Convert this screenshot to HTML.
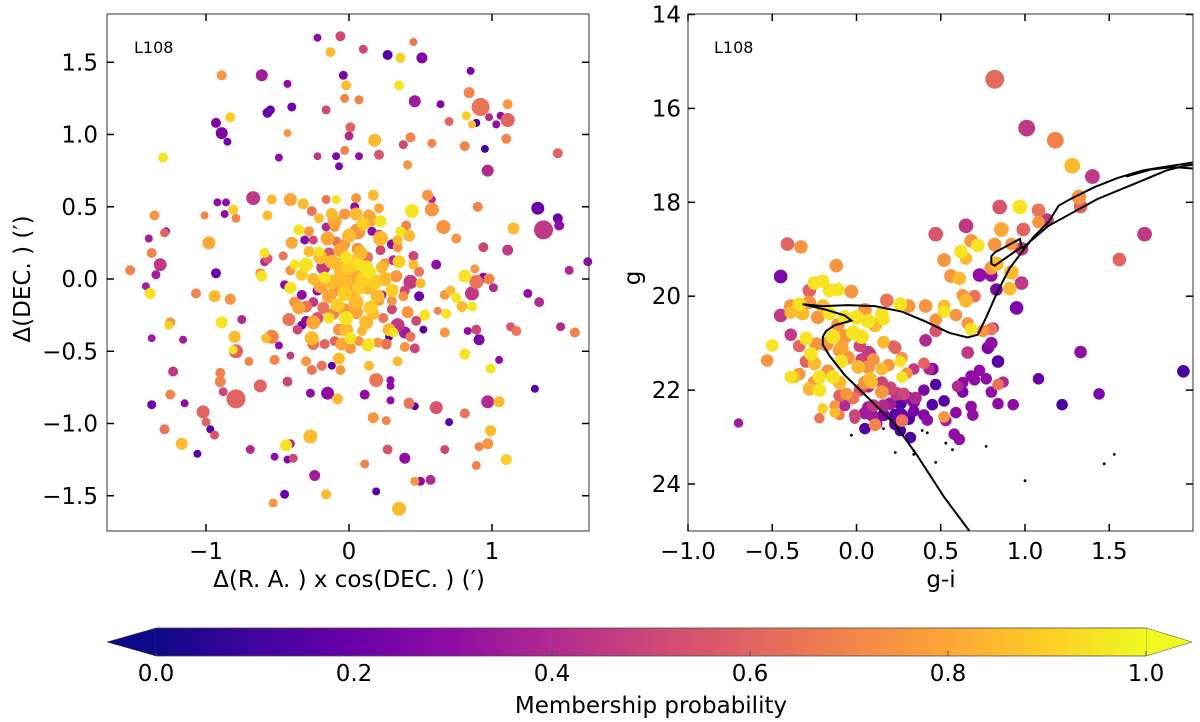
<!DOCTYPE html>
<html><head><meta charset="utf-8">
<style>
html,body{margin:0;padding:0;background:#fff;}
svg{display:block;font-family:"DejaVu Sans","Liberation Sans",sans-serif;}
</style></head>
<body>
<svg id="fig" width="1200" height="722" viewBox="0 0 1200 722" xmlns="http://www.w3.org/2000/svg">
<defs>
<linearGradient id="plasma" x1="0" x2="1" y1="0" y2="0">
<stop offset="0" stop-color="#0d0887"/><stop offset="0.1" stop-color="#41049d"/><stop offset="0.2" stop-color="#6a00a8"/><stop offset="0.3" stop-color="#8f0da4"/><stop offset="0.4" stop-color="#b12a90"/><stop offset="0.5" stop-color="#cc4778"/><stop offset="0.6" stop-color="#e16462"/><stop offset="0.7" stop-color="#f2844b"/><stop offset="0.8" stop-color="#fca636"/><stop offset="0.9" stop-color="#fcce25"/><stop offset="1" stop-color="#f0f921"/>
</linearGradient>
</defs>
<g id="left"></g>
<g id="right"></g>
<g id="cbar">
<polygon points="107,642 156,628 156,656" fill="#0d0887" stroke="#444" stroke-width="0.5"/>
<polygon points="1146,628 1192,642 1146,656" fill="#f0f921" stroke="#444" stroke-width="0.5"/>
<rect x="156" y="628" width="990" height="28" fill="url(#plasma)"/>
<line x1="156" y1="628" x2="1146" y2="628" stroke="#444" stroke-width="0.8"/>
<line x1="156" y1="656" x2="1146" y2="656" stroke="#444" stroke-width="0.8"/>
<text x="651" y="713" font-size="23" text-anchor="middle">Membership probability</text>
</g>
</svg>
<script>
const NS="http://www.w3.org/2000/svg";
// ---- data ----
const cbarTicks=[0,0.2,0.4,0.6,0.8,1.0];
const leftXTicks=[-1,0,1];
const leftYTicks=[-1.5,-1.0,-0.5,0.0,0.5,1.0,1.5];
const rightXTicks=[-1.0,-0.5,0.0,0.5,1.0,1.5];
const rightYTicks=[14,16,18,20,22,24];
// [dRA, dDEC, prob, size]
const leftStars=[
[-.22,1.67,.3,4],[-.06,1.68,.5,5],[.45,1.64,.65,4],[-.13,1.57,.85,5],[.10,1.59,.5,4.5],[.27,1.55,.15,5],[.36,1.53,.9,5],[.51,1.53,.25,5.5],
[-.89,1.41,.75,5],[-.61,1.41,.35,6],[-.43,1.35,.3,4],[-.04,1.41,.25,4.5],[-.02,1.34,.85,5],[.35,1.34,.95,5],[.85,1.44,.25,4],[-.03,1.25,.7,4.5],
[.07,1.24,.7,4.5],[-.16,1.17,.5,4.5],[.46,1.23,.35,6],[.64,1.21,.25,4],[.84,1.29,.7,5.5],[.92,1.19,.65,9],[1.11,1.21,.75,5],[-.57,1.15,.2,5],
[-.55,1.17,.2,4.5],[-.40,1.19,.2,4.5],[-.83,1.12,.9,5],[-.93,1.08,.25,5],[-.89,1.01,.25,6],[-.85,.95,.2,4],[-.43,1.01,.75,4],[.01,1.05,.6,5],
[0,.99,.4,4.5],[.18,.96,.85,6.5],[.70,1.09,.6,4.5],[.82,1.13,.9,4.5],[.89,1.08,.1,4],[.86,1.07,.85,4],[.98,1.12,.4,4],[1.03,1.07,.3,4],
[1.06,1.13,.3,4],[1.11,1.10,.6,7],[1.10,.97,.7,5],[.43,.98,.7,5],[.58,.94,.7,4.5],[.38,.93,.5,4.5],[.81,.92,.7,5],[.95,.90,.1,4],
[-.03,.89,.7,4.5],[-.09,.85,.25,4],[.07,.85,.3,4],[.21,.86,.55,5],[-.22,.85,.45,4],[-.49,.84,.3,4],[-.07,.78,.25,4],[.41,.79,.75,4.5],
[.97,.75,.4,6],[1.46,.87,.6,5],[-1.30,.84,.95,5],
[-.67,.56,.45,7],[-.92,.53,.3,4],[-.86,.53,.3,4],[-.81,.48,.9,5],[-.79,.42,.7,4.5],[-.87,.45,.3,4],[-1.01,.44,.7,4],[-.54,.55,.85,5],
[-.41,.55,.8,6.5],[-.57,.44,.85,5],[-1.36,.44,.75,5],[-1.28,.33,.3,4],[-1.29,.32,.6,4.5],[-1.40,.28,.35,4],[-.98,.25,.8,6.5],[-1.38,.18,.7,5],
[-1.32,.10,.45,6.5],[-1.35,.03,.35,4.5],[-1.53,.06,.7,5],[-1.42,-.05,.35,4],[-1.39,-.10,.95,5.5],[-.93,.04,.2,5],[-1.07,-.10,.7,5],[-.94,-.12,.85,6],
[-.83,-.14,.75,5.5],[-.89,-.30,.95,6],[-.75,-.28,.4,4.5],[-1.25,-.30,.75,5],[-1.26,-.32,.9,4.5],[-1.38,-.41,.35,4],[-1.16,-.42,.35,4],[-.80,-.40,.85,6],
[-.81,-.49,.95,4.5],[-.79,-.50,.6,7],[-.70,-.57,.7,4.5],[-.54,-.40,.7,7],[-.58,-.41,.85,5],[-.49,-.46,.3,4],[-.41,-.53,.45,4],[-.52,-.56,.7,5],
[-1.23,-.64,.45,5],[-.90,-.65,.7,5],[-.90,-.71,.7,5.5],[-.88,-.78,.5,4.5],[-.79,-.83,.6,9.5],[-.62,-.74,.6,6.5],[-.43,-.71,.5,5],[-1.25,-.80,.7,5],
[-1.38,-.87,.2,4.5],[-1.15,-.86,.3,4],[-1.02,-.92,.6,6.5],[-1.00,-.99,.6,4.5],[-.97,-1.04,.15,4],[-.94,-1.08,.55,4.5],[-1.29,-1.04,.65,5],[-1.17,-1.14,.85,6],
[-1.06,-1.21,.15,4],[-.69,-1.18,.4,4.5],[-.52,-1.23,.3,4],[-.43,-1.25,.25,4],[-.39,-1.24,.5,4.5],[-.41,-1.14,.4,4.5],[-.44,-1.15,.95,6],[-.27,-1.09,.85,7],
[-.45,-1.49,.2,4.5],[-.53,-1.55,.75,4.5],[-.24,-1.36,.35,5.5],[-.16,-1.49,.85,5],[-.27,-.79,.3,4.5],[-.15,-.79,.3,6.5],[-.08,-.83,.85,5.5],[.11,-.80,.3,5],
[.19,-.70,.65,7],[.29,-.70,.3,4],[.29,-.74,.3,4],[.29,-.84,.3,4],[.42,-.86,.65,5.5],[.46,-.88,.15,4],[.61,-.89,.55,6.5],[.17,-.96,.75,5.5],
[.26,-.98,.7,4.5],[.70,-.99,.15,4],[.81,-.93,.65,5],[.97,-.85,.4,6.5],[1.05,-.85,.85,5.5],[.99,-1.05,.85,5.5],[.97,-1.14,.75,5.5],[.91,-1.16,.7,4.5],
[.67,-1.18,.5,4.5],[1.10,-1.25,.9,5.5],[.89,-1.29,.7,4.5],[.27,-1.18,.55,5],[.11,-1.28,.7,4.5],[.39,-1.24,.3,5.5],[.19,-1.47,.15,4],[.35,-1.59,.85,7],
[.46,-1.40,.75,4.5],[.50,-1.40,.3,4.5],[.57,-1.39,.4,5],[1.30,-.76,.15,4],[1.05,-.56,.3,4],[.99,-.62,.95,5],[.81,-.52,.95,5.5],[.91,-.42,.25,5.5],
[.83,-.36,.3,4],[.89,-.35,.5,5],[.67,-.37,.75,5],[.52,-.35,.15,4],[1.13,-.33,.55,4.5],[1.17,-.36,.65,5],[1.48,-.33,.4,4.5],[1.58,-.37,.7,5],
[1.25,-.10,.3,4.5],[1.33,-.16,.4,5],[.86,-.10,.45,7],[1.01,-.06,.4,4.5],[.81,.02,.95,6.5],[.98,0,.7,5.5],[.94,.01,.3,5],[.89,-.02,.65,7],
[.88,.07,.75,4.5],[.75,-.13,.95,5],[.67,-.11,.75,5],[.71,-.08,.85,5],[.79,-.19,.85,5.5],[.86,-.19,.95,5],[.68,-.24,.95,5],[.61,.10,.3,5],
[.53,-.25,.95,5.5],[.62,-.22,.7,4],[1.54,.06,.4,4.5],[1.67,.12,.3,4.5],[1.11,.20,.45,5.5],[.94,.22,.5,5],[.75,.28,.75,5],[.66,.36,.75,7],
[1.15,.35,.85,6],[1.36,.34,.45,9.5],[1.32,.49,.2,6.5],[1.46,.42,.2,5],[1.47,.37,.3,5],[.90,.50,.7,5],[.58,.48,.75,7],[.55,.58,.75,5.5],
[.58,.55,.4,4],[.44,.47,.95,7],[.40,.37,.7,5],
[-.35,.34,.95,5.5],[-.28,.33,.75,5],[-.31,.27,.3,4.5],[-.25,.27,.5,4.5],[-.32,.52,.85,5.5],[-.26,.47,.65,5],[-.21,.42,.85,5],[-.16,.55,.65,4.5],
[-.09,.55,.95,4.5],[-.12,.45,.85,6],[-.16,.36,.4,4.5],[-.10,.36,.75,5],[-.03,.45,.75,5.5],[.04,.50,.3,4.5],[.05,.56,.75,5],[.17,.58,.85,5.5],
[.21,.49,.8,5],[.14,.44,.8,6],[.15,.41,.8,7],[.06,.33,.75,8],[.16,.33,.3,4.5],[.21,.31,.5,4.5],[.30,.24,.3,5],[.34,.27,.85,5],
[.36,.33,.95,5],[.34,.22,.75,5],[.22,.20,.5,5],[.13,.15,.65,5.5],[.06,.21,.75,6],[-.03,.24,.75,5.5],[-.09,.26,.65,5],[-.14,.18,.55,5.5],
[-.21,.19,.95,5],[-.28,.19,.85,5.5],[-.46,.16,.65,4.5],[-.59,.18,.95,5],[-.59,.12,.4,4.5],[-.57,.14,.55,5],[-.61,.02,.95,5.5],[-.62,.04,.75,5],
[-.38,.10,.95,5],[-.41,.06,.75,5],[-.33,.03,.9,6],[-.18,.08,.45,7],[-.25,0,.85,6],[-.17,.01,.95,6],[-.08,.10,.85,7],[-.02,.15,.95,6],
[.07,.10,.95,6],[.14,.05,.95,7],[.05,.02,.8,8],[-.03,-.02,.85,8],[-.09,-.07,.75,7],[.07,-.06,.9,7],[.13,-.06,.85,7],[.23,.08,.85,6],
[.25,.11,.75,5],[.31,.13,.4,5],[.33,.02,.75,6],[.45,.16,.5,5],[.45,.10,.85,5],[.49,.05,.65,5],[.43,-.02,.45,7],[.50,-.03,.85,5],
[.34,.02,.3,4.5],[.39,-.08,.5,5],[.49,-.12,.2,5],[.31,-.07,.75,5],[.38,-.12,.75,5],[.30,-.15,.75,5],[.23,-.11,.3,4.5],[.21,-.15,.75,5],
[.16,-.19,.9,6],[.17,-.24,.85,6],[.24,-.27,.65,5],[.30,-.21,.5,5],[.41,-.23,.75,6],[.47,-.29,.5,5],[.34,-.32,.45,7],[.39,-.37,.35,6],
[.43,-.40,.65,5],[.31,-.37,.95,5],[.28,-.40,.15,4],[.39,-.47,.75,5],[.46,-.48,.5,5],[.34,-.57,.85,5],[.26,-.45,.65,5.5],[.20,-.44,.75,5],
[.14,-.45,.95,6],[.01,-.41,.95,6],[.01,-.48,.75,5.5],[.07,-.43,.75,5],[.09,-.36,.85,5],[-.02,-.27,.95,7],[-.03,-.21,.75,6],[.05,-.23,.8,7],
[-.11,-.24,.7,6],[-.14,-.27,.95,5.5],[-.18,-.20,.65,6],[-.25,-.16,.45,5],[-.30,-.19,.65,6],[-.33,-.11,.3,5],[-.41,-.06,.95,6],[-.45,-.04,.3,4.5],
[-.38,-.16,.75,5.5],[-.22,-.08,.3,5],[-.22,-.27,.55,6],[-.30,-.29,.3,5],[-.33,-.32,.2,4.5],[-.42,-.28,.65,6.5],[-.36,-.35,.5,5],[-.26,-.41,.85,7],
[-.25,-.45,.65,6],[-.17,-.45,.6,5],[-.10,-.43,.6,5],[-.07,-.35,.75,6],[-.07,-.55,.85,6],[-.12,-.60,.15,4],[-.06,-.63,.75,5],[-.19,-.60,.65,5],
[-.26,-.63,.65,5],[-.30,-.57,.75,5],[.14,-.60,.85,5],[.13,-.46,.95,6],
[-.05,.05,.85,8],[.02,-.10,.8,8],[.10,.00,.9,8],[-.12,-.02,.85,7.5],[.00,.08,.9,7.5],[.08,.18,.85,7],[-.06,.20,.8,7],[.18,-.02,.9,7.5],
[-.14,-.12,.8,7],[.05,-.16,.85,7.5],[.20,-.12,.85,7],[-.02,-.35,.85,7],[.12,-.30,.85,7],[-.20,-.05,.8,7],[.25,.00,.85,7],[.00,.30,.85,7],
[-.15,.28,.8,7],[.22,.28,.85,7.5],[-.30,.10,.95,7],[.35,.12,.9,6.5],[-.10,.40,.8,7],[.10,.38,.9,6.5],[-.25,-.30,.8,7],[.28,-.35,.85,6.5],
[.00,-.05,.8,8.5],[.12,.08,.95,7],[-.08,-.18,.9,7],[.15,-.20,.9,7],[-.20,.15,.85,7],[.30,-.08,.9,6.5],[-.35,-.20,.8,6.5],[.05,.45,.85,6.5],
[-.05,-.45,.8,6.5],[.22,.40,.95,6],[-.40,.25,.8,6],[.42,.30,.85,6],[.02,.12,.9,7],[-.12,.12,.85,7],[.08,-.02,.8,8],[-.03,-.10,.9,7.5]
];
// [g-i, g, prob, size]
const cmdStars=[
[.82,15.38,.62,9],[1.01,16.42,.45,8],[1.18,16.68,.7,8],[1.28,17.22,.85,7.5],[1.40,17.45,.45,7],[1.32,17.89,.75,7],[1.33,18.09,.6,6.5],[.85,18.10,.55,7],
[.97,18.10,.95,7],[1.08,18.17,.65,6.5],[1.13,18.38,.45,6.5],[1.08,18.42,.75,6],[.99,18.58,.6,6.5],[.86,18.58,.8,7],[.65,18.5,.45,7],[.47,18.68,.55,7],
[1.71,18.68,.45,7],[1.56,19.22,.6,6.5],[.68,18.82,.75,6.5],[.72,18.92,.95,6.5],[.62,19.05,.95,6.5],[.65,19.2,.85,6],[.82,18.9,.75,6.5],[.92,18.89,.75,6],
[.98,18.99,.45,6.5],[.83,19.31,.85,7],[.92,19.49,.85,7],[.80,19.40,.75,6.5],[.73,19.55,.3,6.5],[.80,19.56,.3,6],[.98,19.72,.45,6.5],[.91,19.84,.85,6.5],
[.83,19.86,.25,6],[.56,19.57,.75,6.5],[.61,19.62,.85,6.5],[.52,19.23,.75,6.5],[.95,20.25,.25,6.5],[.63,19.98,.75,6],[.65,20.1,.85,6.5],[.70,20.0,.65,6],
[.41,20.21,.75,6.5],[.52,20.21,.85,6],[.52,20.33,.95,6],[.59,20.4,.75,6],[.47,20.5,.75,6],[.47,20.74,.55,6],[.66,20.58,.75,6],[.68,20.7,.95,6],
[.75,20.74,.75,6],[.80,20.70,.65,6],[.81,20.68,.3,5.5],[.80,21.0,.3,6],[.78,21.1,.25,6],[.66,21.2,.45,6],[.41,20.94,.4,6],[.84,21.39,.15,6],
[.45,21.55,.25,6],[1.33,21.19,.3,6],[1.94,21.6,.12,6],[.47,21.88,.15,5.5],[.63,21.84,.3,5.5],[.68,21.7,.3,5.5],[.73,21.58,.3,5.5],[.70,21.78,.3,5.5],
[.77,21.76,.3,5.5],[.87,21.83,.4,5.5],[.84,21.88,.65,5.5],[1.08,21.76,.2,5.5],[.80,22.04,.3,5.5],[1.44,22.08,.25,5.5],[1.22,22.31,.12,5.5],[.84,22.29,.3,5.5],
[.93,22.31,.3,5.5],[.68,22.35,.3,5.5],[.69,22.53,.3,5.5],[.59,22.48,.3,5.5],[.63,22.04,.25,5.5],[.60,21.92,.4,5.5],[.52,22.23,.15,5.5],[.45,22.31,.15,5.5],
[.52,22.57,.75,5.5],[.53,22.65,.35,5.5],[.58,22.94,.3,5.5],[.61,23.05,.3,5.5],[.42,22.64,.3,5.5],[.40,22.53,.25,5.5],[.34,22.45,.25,5.5],[.40,22.0,.25,5.5],
[.43,21.55,.4,5.5],[.40,21.43,.6,5.5],[.34,21.55,.45,5.5],[.30,21.64,.75,5.5],[.27,21.72,.95,5.5],[.26,21.39,.95,5.5],[.27,21.31,.75,5.5],[.19,21.47,.75,6],
[.15,21.55,.85,6],[.22,21.06,.6,5.5],[.16,20.98,.85,6],[.15,21.84,.5,6],[.09,21.84,.85,6],[.07,21.92,.4,6],[.15,22.04,.75,6.5],[.20,21.96,.5,6.5],
[.24,22.08,.45,6.5],[.28,22.08,.5,6],[.31,22.17,.3,6],[.35,22.17,.4,6],[.34,22.25,.25,6],[.26,22.29,.15,6],[.20,22.29,.35,6],[.16,22.33,.4,6],
[.10,22.33,.45,6],[.07,22.37,.35,6],[.05,22.49,.35,6],[.09,22.53,.35,6],[.16,22.53,.25,6],[.23,22.53,.15,6],[.27,22.53,.2,6],[.31,22.61,.15,6],
[.27,22.65,.65,6],[.23,22.72,.15,6],[.26,22.86,.12,5.5],[.32,23.01,.12,5.5],[.11,22.74,.7,6],[.12,22.72,.3,5.5],[.05,22.82,.15,5.5],[-.01,22.53,.5,5.5],
[-.07,22.33,.4,5.5],[-.10,22.12,.6,6],[-.06,22.08,.75,6],[-.02,22.17,.65,6],[.02,22.0,.55,6],[.05,21.84,.75,6.5],[.08,21.76,.85,6.5],[.07,21.51,.75,6.5],
[.01,21.51,.85,6.5],[.03,21.35,.5,6],[.08,21.23,.45,6],[.10,21.35,.75,6],[-.05,21.31,.75,6.5],[-.09,21.39,.95,6.5],[-.10,21.15,.75,6.5],[-.14,21.72,.95,6.5],
[-.10,21.84,.85,6.5],[-.17,21.60,.75,6.5],[-.22,21.72,.95,6.5],[-.25,21.84,.75,6.5],[-.28,21.96,.85,6],[-.22,22.0,.95,6.5],[-.28,21.98,.75,6],[-.37,21.72,.85,6],
[-.34,21.66,.75,6],[-.25,21.43,.85,6.5],[-.30,21.39,.6,6],[-.27,21.23,.95,6.5],[-.24,21.02,.75,6.5],[-.30,20.90,.95,6.5],[-.34,21.06,.6,6],[-.39,20.82,.45,6],
[-.45,20.41,.45,6.5],[-.39,20.21,.75,6.5],[-.39,20.35,.85,6],[-.32,20.37,.85,6.5],[-.34,20.17,.95,6.5],[-.28,20.13,.75,6.5],[-.28,19.88,.6,6.5],[-.25,19.72,.95,6.5],
[-.20,19.68,.95,6.5],[-.16,19.88,.95,6.5],[-.11,19.86,.95,6.5],[-.03,19.90,.75,6.5],[-.12,19.35,.75,6.5],[-.45,19.58,.25,6.5],[-.41,18.89,.6,6.5],[-.33,18.95,.75,6.5],
[-.20,20.21,.85,6.5],[-.23,20.45,.75,6.5],[-.16,20.37,.95,6.5],[-.11,20.61,.75,6.5],[-.07,20.45,.95,7],[0,20.45,.95,7],[.05,20.29,.75,6.5],[.07,20.53,.95,7],
[.11,20.61,.85,7],[.15,20.37,.95,6.5],[-.02,20.78,.95,7],[.03,20.86,.95,7],[-.07,20.86,.75,7],[-.14,20.86,.95,7],[-.18,21.02,.75,7],[-.09,21.10,.8,7],
[.02,21.06,.5,6],[.07,21.19,.45,6],[.16,20.49,.95,6],[.18,20.09,.65,6.5],[.26,20.17,.95,6.5],[.31,20.21,.75,6.5],[.23,21.10,.6,6],[-.39,21.72,.95,6],
[-.53,21.37,.75,6],[-.50,21.05,.95,6],[-.70,22.7,.35,4.5],[-.20,22.39,.9,5],[-.13,22.33,.75,5],[-.13,22.48,.85,5],[-.10,22.53,.7,5],[-.22,22.60,.65,5],
[-.01,22.61,.5,5]
];
// non-member stars (black dots): [g-i, g]
const fieldStars=[[-.03,22.96],[.16,22.82],[.23,23.33],[.34,23.29],[.34,23.37],[.39,22.86],[.42,22.91],[.47,23.54],[.53,23.13],[.57,23.27],[.77,23.20],[1.0,23.93],[1.47,23.57],[1.53,23.37]];
// isochrone branches
const isoMainGI=[.67,.52,.36,.23,.07,-.07,-.16,-.20,-.20,-.18,-.13,-.03,-.07,-.18,-.32,-.20,-.05,.11,.27,.41,.55,.66,.72,.77,.84,.91,.98,1.05,1.14,1.20,1.27,1.41,1.55,1.70,1.84,2.0];
const isoMainG=[25.0,24.28,23.39,22.74,22.17,21.68,21.27,21.03,20.86,20.74,20.62,20.52,20.41,20.29,20.17,20.21,20.19,20.21,20.33,20.54,20.78,20.88,20.82,20.45,19.88,19.40,19.07,18.74,18.42,18.07,17.93,17.68,17.48,17.32,17.24,17.15];
const isoHBGI=[.80,.80,.82,.98,.97,.82,.80];
const isoHBG=[19.15,19.31,19.35,18.95,18.78,19.07,19.15];
const isoAGBGI=[.98,1.14,1.43,1.66,1.84,1.95,2.0];
const isoAGBG=[18.99,18.50,17.93,17.59,17.32,17.22,17.20];
const isoTipGI=[1.60,1.75,1.88,2.0];
const isoTipG=[17.45,17.30,17.25,17.28];

// ---- colormap ----
const plas=["#0d0887","#41049d","#6a00a8","#8f0da4","#b12a90","#cc4778","#e16462","#f2844b","#fca636","#fcce25","#f0f921"];
function hex(h){return [1,3,5].map(i=>parseInt(h.substr(i,2),16));}
function cmap(p){p=Math.max(0,Math.min(1,p));const t=p*10,i=Math.min(9,Math.floor(t)),f=t-i;const a=hex(plas[i]),b=hex(plas[i+1]);return "rgb("+a.map((v,k)=>Math.round(v+(b[k]-v)*f)).join(",")+")";}
function el(tag,attrs,parent){const e=document.createElementNS(NS,tag);for(const k in attrs)e.setAttribute(k,attrs[k]);parent.appendChild(e);return e;}

// ---- axes ----
const L={x0:107,x1:589,y0:14,y1:531};
const lx=v=>349+v*143, ly=v=>279-v*144.5;
const R={x0:688,x1:1193,y0:14,y1:531};
const rx=v=>688+(v+1)*168.5, ry=v=>14.5+(v-14)*46.95;
const cx=v=>156+v*990;

const gl=document.getElementById('left'), gr=document.getElementById('right'), gc=document.getElementById('cbar');

// left points (drawn low-to-high probability)
leftStars.slice().sort((a,b)=>a[2]-b[2]).forEach(s=>{
  const c=el('circle',{cx:lx(s[0]).toFixed(1),cy:ly(s[1]).toFixed(1),r:s[3],fill:cmap(s[2])},gl);
  
  
});
// right points
cmdStars.slice().sort((a,b)=>a[2]-b[2]).forEach(s=>{
  const c=el('circle',{cx:rx(s[0]).toFixed(1),cy:ry(s[1]).toFixed(1),r:s[3]*1.05,fill:cmap(s[2])},gr);
  
  
});
fieldStars.forEach(s=>{
  const c=el('circle',{cx:rx(s[0]).toFixed(1),cy:ry(s[1]).toFixed(1),r:1.4,fill:'#000'},gr);
  
  
});
const clip=el('clipPath',{id:'rclip'},document.querySelector('defs'));
el('rect',{x:R.x0,y:R.y0,width:R.x1-R.x0,height:R.y1-R.y0},clip);
const isoG=el('g',{'clip-path':'url(#rclip)'},gr);


[[isoMainGI,isoMainG,'isochrone-main'],[isoHBGI,isoHBG,'isochrone-hb-loop'],[isoAGBGI,isoAGBG,'isochrone-agb'],[isoTipGI,isoTipG,'isochrone-rgb-tip']].forEach(a=>{
  const pts=a[0].map((v,i)=>rx(v).toFixed(1)+","+ry(a[1][i]).toFixed(1)).join(" ");
  const p=el('polyline',{points:pts,fill:'none',stroke:'#000','stroke-width':2},isoG);
  
  
});

// frames and ticks
function frame(g,B,name){
  const r=el('rect',{x:B.x0,y:B.y0,width:B.x1-B.x0,height:B.y1-B.y0,fill:'none',stroke:'#333','stroke-width':1},g);
  
  
}
frame(gl,L,'left-plot-frame');frame(gr,R,'right-plot-frame');
function text(g,x,y,s,attrs,name){const t=el('text',Object.assign({x:x,y:y,'font-size':23},attrs||{}),g);t.textContent=s;return t;}
function fmt1(v){return (v<0?"\u2212":"")+Math.abs(v).toFixed(1);}
leftXTicks.forEach(v=>{const X=lx(v);
  el('line',{x1:X,y1:L.y1,x2:X,y2:L.y1-7,stroke:'#000','stroke-width':1.5},gl);
  el('line',{x1:X,y1:L.y0,x2:X,y2:L.y0+7,stroke:'#000','stroke-width':1.5},gl);
  text(gl,X,559,(v<0?"\u2212":"")+Math.abs(v),{'text-anchor':'middle'},'x-tick-label');});
leftYTicks.forEach(v=>{const Y=ly(v);
  el('line',{x1:L.x0,y1:Y,x2:L.x0+7,y2:Y,stroke:'#000','stroke-width':1.5},gl);
  el('line',{x1:L.x1,y1:Y,x2:L.x1-7,y2:Y,stroke:'#000','stroke-width':1.5},gl);
  text(gl,98,Y+8,fmt1(v),{'text-anchor':'end'},'y-tick-label');});
rightXTicks.forEach(v=>{const X=rx(v);
  el('line',{x1:X,y1:R.y1,x2:X,y2:R.y1-7,stroke:'#000','stroke-width':1.5},gr);
  el('line',{x1:X,y1:R.y0,x2:X,y2:R.y0+7,stroke:'#000','stroke-width':1.5},gr);
  text(gr,X,559,fmt1(v),{'text-anchor':'middle'},'x-tick-label');});
rightYTicks.forEach(v=>{const Y=ry(v);
  el('line',{x1:R.x0,y1:Y,x2:R.x0+7,y2:Y,stroke:'#000','stroke-width':1.5},gr);
  el('line',{x1:R.x1,y1:Y,x2:R.x1-7,y2:Y,stroke:'#000','stroke-width':1.5},gr);
  text(gr,681,Y+8,String(v),{'text-anchor':'end'},'y-tick-label');});
text(gl,134,53,'L108',{'font-size':16},'cluster-label');
text(gr,714,53,'L108',{'font-size':16},'cluster-label');
text(gl,349,587,'\u0394(R. A. ) x cos(DEC. ) (\u2032)',{'text-anchor':'middle'},'x-axis-title');
text(gl,0,0,'\u0394(DEC. ) (\u2032)',{'text-anchor':'middle',transform:'translate(30,279) rotate(-90)'},'y-axis-title');
text(gr,941,587,'g-i',{'text-anchor':'middle'},'x-axis-title');
text(gr,0,0,'g',{'text-anchor':'middle',transform:'translate(640,278) rotate(-90)'},'y-axis-title');
// colorbar ticks
cbarTicks.forEach(v=>{const X=cx(v);
  el('line',{x1:X,y1:656,x2:X,y2:651,stroke:'#444','stroke-width':0.8},gc);
  text(gc,X,681,v.toFixed(1),{'text-anchor':'middle'},'colorbar-tick-label');});
</script>
</body></html>
